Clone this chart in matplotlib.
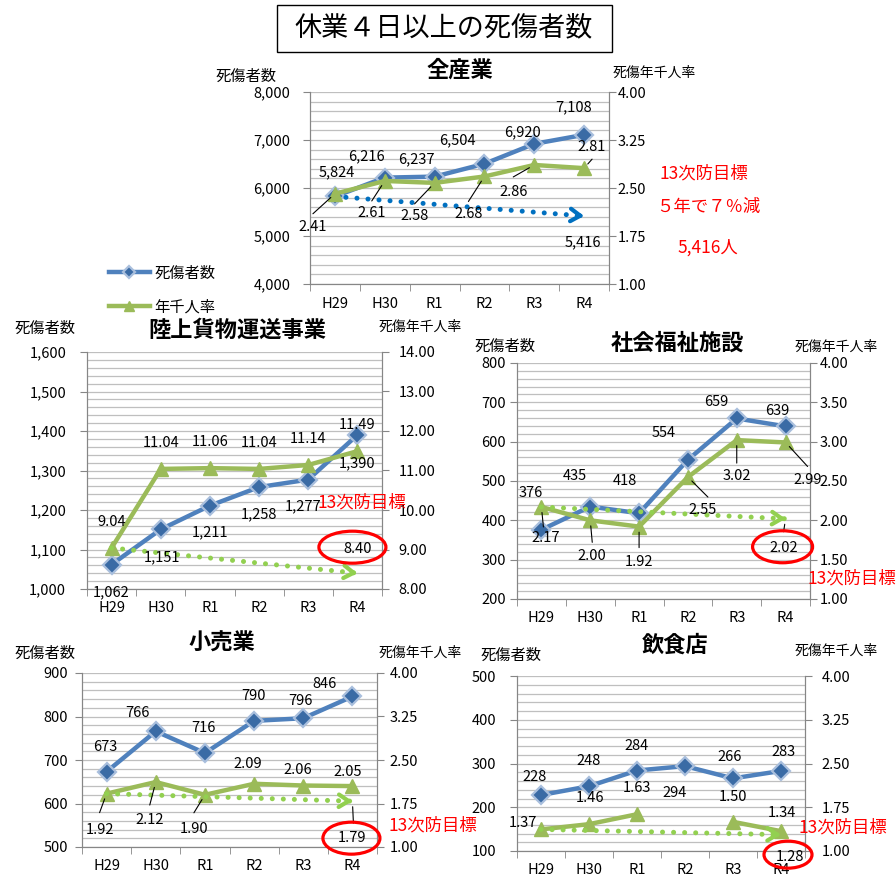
import numpy as np
import matplotlib.pyplot as plt
from matplotlib.patches import Ellipse, Rectangle
from matplotlib.ticker import MultipleLocator, FuncFormatter
from matplotlib.transforms import IdentityTransform

plt.rcParams['font.family'] = ['Noto Sans CJK JP', 'DejaVu Sans']

W, H = 896, 877
years = ['H29', 'H30', 'R1', 'R2', 'R3', 'R4']

# 全産業
all_cnt = [5824, 6216, 6237, 6504, 6920, 7108]
all_rate = [2.41, 2.61, 2.58, 2.68, 2.86, 2.81]
all_goal = 5416

# 陸上貨物運送事業
trk_cnt = [1062, 1151, 1211, 1258, 1277, 1390]
trk_rate = [9.04, 11.04, 11.06, 11.04, 11.14, 11.49]
trk_goal = 8.40

# 社会福祉施設
wel_cnt = [376, 435, 418, 554, 659, 639]
wel_rate = [2.17, 2.00, 1.92, 2.55, 3.02, 2.99]
wel_goal = 2.02

# 小売業
ret_cnt = [673, 766, 716, 790, 796, 846]
ret_rate = [1.92, 2.12, 1.90, 2.09, 2.06, 2.05]
ret_goal = 1.79

# 飲食店 (R2 rate not shown)
food_cnt = [228, 248, 284, 294, 266, 283]
food_rate = [1.37, 1.46, 1.63, np.nan, 1.50, 1.34]
food_goal = 1.28

BLUE = '#4F81BD'
GREEN = '#9BBB59'
LGREEN = '#92D050'
RED = '#FF0000'

fig = plt.figure(figsize=(W / 100, H / 100), dpi=100)


def px(x, y):
    return x / W, 1 - y / H


def ftext(x, y, s, **kw):
    fig.text(*px(x, y), s, ha=kw.pop('ha', 'center'), va='center', **kw)


def draw_panel(box, cnt, rate, clim, cstep, rlim, rstep, pads, comma):
    x0, y0, x1, y1 = box
    ax = fig.add_axes([x0 / W, 1 - y1 / H, (x1 - x0) / W, (y1 - y0) / H])
    ax2 = ax.twinx()
    ax.set_xlim(-0.5, 5.5)
    ax.set_ylim(*clim)
    ax2.set_ylim(*rlim)
    ax.yaxis.set_major_locator(MultipleLocator(cstep))
    ax.yaxis.set_minor_locator(MultipleLocator(cstep / 5))
    ax2.set_yticks(np.arange(rlim[0], rlim[1] + rstep / 2, rstep))
    if comma:
        ax.yaxis.set_major_formatter(FuncFormatter(lambda v, p: f'{v:,.0f}'))
    ax2.yaxis.set_major_formatter(FuncFormatter(lambda v, p: f'{v:.2f}'))
    ax.set_axisbelow(True)
    ax.grid(which='both', axis='y', color='#BFBFBF', lw=0.9)
    ax.set_xticks(range(6), years)
    ax.set_xticks(np.arange(-0.5, 6, 1), minor=True)
    ax.tick_params(axis='x', which='major', length=0, pad=9, labelsize=10.5)
    ax.tick_params(axis='x', which='minor', length=5, color='#868686')
    ax.tick_params(axis='y', which='major', length=5, color='#868686',
                   pad=pads[0], labelsize=10.5)
    ax.tick_params(axis='y', which='minor', length=0)
    ax2.tick_params(axis='y', length=5, color='#868686', pad=pads[1], labelsize=10.5)
    for a in (ax, ax2):
        a.spines['top'].set_visible(False)
        for s in ('left', 'right', 'bottom'):
            a.spines[s].set_color('#868686')
    l1, = ax.plot(range(6), cnt, color=BLUE, lw=3.2, marker='D', ms=9,
                  mfc='#3A6BA5', mec='#A9BFDD', mew=1.6)
    l2, = ax2.plot(range(6), rate, color=GREEN, lw=3.2, marker='^', ms=10,
                   mfc=GREEN, mec=GREEN)
    return ax, ax2, l1, l2


def lab(ax2, xy, s, off, lead=None, coords=None, **kw):
    ax2.annotate(s, xy, xycoords=coords or ax2.transData, xytext=off,
                 textcoords='offset pixels', ha='center', va='center',
                 fontsize=10.5, zorder=10, **kw)
    if lead:
        ax2.annotate('', xy, xycoords=coords or ax2.transData, xytext=lead,
                     textcoords='offset pixels', zorder=10,
                     arrowprops=dict(arrowstyle='-', lw=0.8, color='black',
                                     shrinkA=0, shrinkB=4))


def goal_arrow(a, start, end, color):
    a.plot([0, 5], [start, end], color=color, lw=3.6, ls=(0, (0.01, 2.2)),
           dash_capstyle='round', zorder=3)
    a.annotate('', xy=(5, end), xytext=(4.9, start + (end - start) * 0.98),
               arrowprops=dict(arrowstyle='->,head_length=0.7,head_width=0.45',
                               lw=3, color=color, shrinkA=0, shrinkB=0))


def ring(a, xy, dx, dy, w, h):
    cx, cy = a.transData.transform(xy)
    fig.add_artist(Ellipse((cx + dx, cy - dy), w, h, transform=IdentityTransform(),
                           fill=False, ec=RED, lw=2.3, zorder=20))


def annotate_panel(ax, ax2, cnt, rate, comma, c_off, r_off, r_lead):
    for i in range(6):
        s = f'{cnt[i]:,}' if comma else f'{cnt[i]}'
        lab(ax2, (i, cnt[i]), s, c_off[i], coords=ax.transData)
        if r_off[i] is not None and not np.isnan(rate[i]):
            lab(ax2, (i, rate[i]), f'{rate[i]:.2f}', r_off[i], r_lead[i])


# main heading
fig.add_artist(Rectangle(px(277, 52), 335 / W, 47 / H, transform=fig.transFigure,
                         fc='white', ec='black', lw=1))
ftext(444, 28, '休業４日以上の死傷者数', fontsize=19.5)

# ---- 全産業
ax, ax2, l1, l2 = draw_panel((310, 92, 609, 284), all_cnt, all_rate, (4000, 8000), 1000,
                             (1.0, 4.0), 0.75, (9, 1), True)
goal_arrow(ax, all_cnt[0], all_goal, '#0070C0')
annotate_panel(ax, ax2, all_cnt, all_rate, True,
               [(2, 24), (-18, 21), (-18, 17), (-27, 24), (-12, 12), (-11, 28)],
               [(-22, -33), (-13, -32), (-20, -33), (-16, -38), (-21, -27), (8, 21)],
               [(-22, -20), (-13, -20), (-20, -21), (-16, -25), (-21, -12), (8, 9)])
lab(ax2, (5, all_goal), f'{all_goal:,}', (-1, -26), coords=ax.transData)
ftext(460, 70, '全産業', fontsize=16, fontweight='bold')
ftext(246, 76, '死傷者数', fontsize=11)
ftext(613, 73, '死傷年千人率', fontsize=10, ha='left')
ftext(704, 173, '13次防目標', fontsize=12.5, color=RED)
ftext(708, 207, '５年で７％減', fontsize=12.5, color=RED)
ftext(708, 248, '5,416人', fontsize=12.5, color=RED)
fig.legend([l1, l2], ['死傷者数', '年千人率'], loc='upper left',
           bbox_to_anchor=px(95, 251), frameon=False, fontsize=11,
           handlelength=2.7, handletextpad=0.3, labelspacing=1.1, markerscale=0.7)

# ---- 陸上貨物運送事業
ax, ax2, l1, l2 = draw_panel((87, 352, 382, 589), trk_cnt, trk_rate, (1000, 1600), 100,
                             (8.0, 14.0), 1.0, (10, 7), True)
goal_arrow(ax2, trk_rate[0], trk_goal, LGREEN)
annotate_panel(ax, ax2, trk_cnt, trk_rate, True,
               [(0, -28), (1, -28), (0, -27), (0, -27), (-5, -27), (0, -28)],
               [(0, 26)] * 6, [None] * 6)
lab(ax2, (5, trk_goal), f'{trk_goal:.2f}', (0, 24))
ring(ax2, (5, trk_goal), -5, -26, 67, 32)
ftext(237, 330, '陸上貨物運送事業', fontsize=16, fontweight='bold')
ftext(45, 328, '死傷者数', fontsize=11)
ftext(420, 327, '死傷年千人率', fontsize=10)
ftext(362, 502, '13次防目標', fontsize=12.5, color=RED)

# ---- 社会福祉施設
ax, ax2, l1, l2 = draw_panel((517, 363, 810, 599), wel_cnt, wel_rate, (200, 800), 100,
                             (1.0, 4.0), 0.5, (3, 2), False)
goal_arrow(ax2, wel_rate[0], wel_goal, LGREEN)
annotate_panel(ax, ax2, wel_cnt, wel_rate, False,
               [(-11, 37), (-15, 31), (-14, 32), (-24, 27), (-21, 16), (-8, 15)],
               [(4, -31), (2, -36), (0, -35), (15, -33), (0, -36), (22, -38)],
               [(2, -20), (2, -22), (0, -21), (20, -20), (0, -23), (22, -24)])
lab(ax2, (5, wel_goal), f'{wel_goal:.2f}', (-2, -29), (-2, -13))
ring(ax2, (5, wel_goal), -3, 28, 60, 32)
ftext(677, 343, '社会福祉施設', fontsize=16, fontweight='bold')
ftext(505, 346, '死傷者数', fontsize=11)
ftext(836, 347, '死傷年千人率', fontsize=10)
ftext(807, 578, '13次防目標', fontsize=12.5, color=RED, ha='left')

# ---- 小売業
ax, ax2, l1, l2 = draw_panel((82, 673, 377, 847), ret_cnt, ret_rate, (500, 900), 100,
                             (1.0, 4.0), 0.75, (5, 4), False)
goal_arrow(ax2, ret_rate[0], ret_goal, LGREEN)
annotate_panel(ax, ax2, ret_cnt, ret_rate, False,
               [(-1, 25), (-18, 18), (-1, 25), (-1, 25), (-3, 17), (-28, 12)],
               [(-7, -36), (-6, -38), (-11, -34), (-6, 20), (-5, 16), (-5, 14)],
               [(-7, -19), (-6, -23), (-11, -18), None, None, None])
lab(ax2, (5, ret_goal), f'{ret_goal:.2f}', (0, -37), (1, -22))
ring(ax2, (5, ret_goal), -1, 37, 57, 32)
ftext(222, 643, '小売業', fontsize=16, fontweight='bold')
ftext(45, 653, '死傷者数', fontsize=11)
ftext(420, 653, '死傷年千人率', fontsize=10)
ftext(388, 825, '13次防目標', fontsize=12.5, color=RED, ha='left')

# ---- 飲食店
ax, ax2, l1, l2 = draw_panel((517, 676, 805, 851), food_cnt, food_rate, (100, 500), 100,
                             (1.0, 4.0), 0.75, (10, 7), False)
goal_arrow(ax2, food_rate[0], food_goal, LGREEN)
annotate_panel(ax, ax2, food_cnt, food_rate, False,
               [(-6, 18), (0, 25), (0, 25), (-10, -27), (-3, 21), (2, 19)],
               [(-18, 6), (1, 26), (0, 26), None, (0, 25), (1, 18)],
               [None] * 6)
lab(ax2, (5, food_goal), f'{food_goal:.2f}', (9, -22))
ring(ax2, (5, food_goal), 7, 20, 48, 27)
ftext(675, 645, '飲食店', fontsize=16, fontweight='bold')
ftext(511, 655, '死傷者数', fontsize=11)
ftext(836, 651, '死傷年千人率', fontsize=10)
ftext(843, 827, '13次防目標', fontsize=12.5, color=RED)

fig.savefig('out.png', dpi=100)
